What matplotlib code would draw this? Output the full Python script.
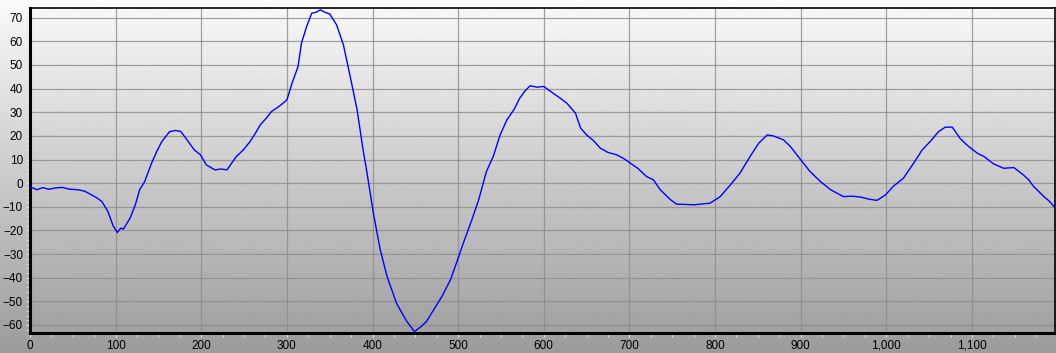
import numpy as np
import matplotlib
matplotlib.use("Agg")
from matplotlib import pyplot as plt
from matplotlib.ticker import FuncFormatter, MultipleLocator

# values
x_vals = [0, 8, 15, 22, 30, 38, 45, 56, 64, 72, 78, 84, 91, 97, 102, 106, 109, 117,
          123, 128, 134, 142, 148, 154, 163, 170, 176, 182, 187, 192, 199, 206, 216,
          223, 230, 241, 249, 257, 263, 269, 276, 282, 291, 300, 306, 313, 317, 323,
          329, 334, 339, 345, 350, 358, 366, 374, 382, 389, 393, 401, 409, 417, 428,
          440, 449, 457, 463, 469, 481, 491, 498, 506, 516, 524, 533, 541, 549, 557,
          565, 572, 578, 584, 592, 600, 611, 619, 627, 637, 643, 650, 658, 666, 675,
          685, 693, 701, 710, 720, 728, 736, 748, 755, 765, 775, 785, 794, 806, 818,
          829, 841, 851, 861, 868, 880, 888, 900, 911, 923, 935, 950, 960, 970, 980,
          989, 999, 1008, 1020, 1032, 1042, 1053, 1061, 1069, 1077, 1086, 1093, 1100,
          1107, 1114, 1125, 1137, 1149, 1160, 1166, 1172, 1178, 1184, 1190, 1196]
y_vals = [-1.5, -2.8, -1.9, -2.6, -2.0, -1.8, -2.5, -2.8, -3.4, -5.0, -6.2, -7.8, -12.0,
          -18.0, -20.9, -19.0, -19.5, -14.7, -9.2, -2.8, 0.7, 8.5, 13.4, 17.6, 21.8,
          22.3, 21.9, 19.0, 16.5, 14.0, 12.0, 7.7, 5.6, 6.0, 5.6, 11.3, 14.0, 17.6,
          21.0, 24.7, 27.5, 30.3, 32.5, 35.2, 42.3, 49.3, 59.2, 66.2, 71.9, 72.3, 73.3,
          72.2, 71.6, 67.0, 58.5, 45.0, 31.0, 14.0, 5.6, -12.7, -28.2, -39.5, -50.8,
          -58.5, -62.8, -60.6, -58.5, -55.0, -48.0, -40.9, -33.8, -25.4, -15.5, -7.0,
          4.9, 11.3, 20.4, 26.8, 31.0, 36.0, 39.0, 41.2, 40.6, 40.9, 38.0, 36.0, 33.8,
          29.6, 23.3, 20.4, 18.0, 14.8, 13.0, 12.0, 10.5, 8.5, 6.2, 2.8, 1.4, -2.8,
          -7.0, -8.9, -9.0, -9.2, -8.8, -8.5, -5.7, -0.7, 4.2, 11.3, 16.9, 20.4, 20.0,
          18.3, 15.5, 9.9, 4.9, 0.7, -2.8, -5.7, -5.5, -5.9, -6.8, -7.3, -5.0, -1.4,
          2.1, 8.5, 14.1, 18.3, 21.8, 23.7, 23.7, 19.0, 16.5, 14.4, 12.5, 11.3, 8.2,
          6.3, 6.6, 3.5, 1.5, -1.4, -3.5, -5.7, -7.5, -10.0]
x_ticks = list(range(0, 1101, 100))
y_ticks = list(range(-60, 71, 10))

fig = plt.figure(figsize=(10.56, 3.53), dpi=100)

# grey gradient behind everything
bg = fig.add_axes([0, 0, 1, 1], zorder=0)
grad = np.linspace(0.98, 0.61, 256).reshape(-1, 1)
bg.imshow(grad, aspect="auto", cmap="gray", vmin=0, vmax=1, extent=(0, 1, 0, 1))
bg.axis("off")

ax = fig.add_axes([30 / 1056, 20 / 353, 1025 / 1056, 325 / 353], zorder=1)
ax.set_facecolor("none")
ax.plot(x_vals, y_vals, color="#0000ff", lw=1.0, zorder=3)

ax.set_xlim(0, 1197)
ax.set_ylim(-63.4, 74.1)
ax.set_xticks(x_ticks)
ax.set_yticks(y_ticks)
ax.xaxis.set_minor_locator(MultipleLocator(25))
ax.yaxis.set_minor_locator(MultipleLocator(2))
ax.xaxis.set_major_formatter(FuncFormatter(lambda v, p: "{:,.0f}".format(v)))
ax.grid(True, which="major", color="#8c8c8c", lw=0.9, alpha=0.8)

for lab in ax.get_xticklabels() + ax.get_yticklabels():
    lab.set_family("Liberation Sans")
ax.tick_params(axis="both", which="major", labelsize=8.5, length=3, color="#e8e8e8",
               pad=2)
ax.tick_params(axis="both", which="minor", length=3, color="#e8e8e8")

ax.spines["left"].set_linewidth(2.2)
ax.spines["bottom"].set_linewidth(2.2)
ax.spines["top"].set_linewidth(1.2)
ax.spines["right"].set_linewidth(1.2)
for s in ax.spines.values():
    s.set_color("black")

fig.savefig("out.png", dpi=100)
